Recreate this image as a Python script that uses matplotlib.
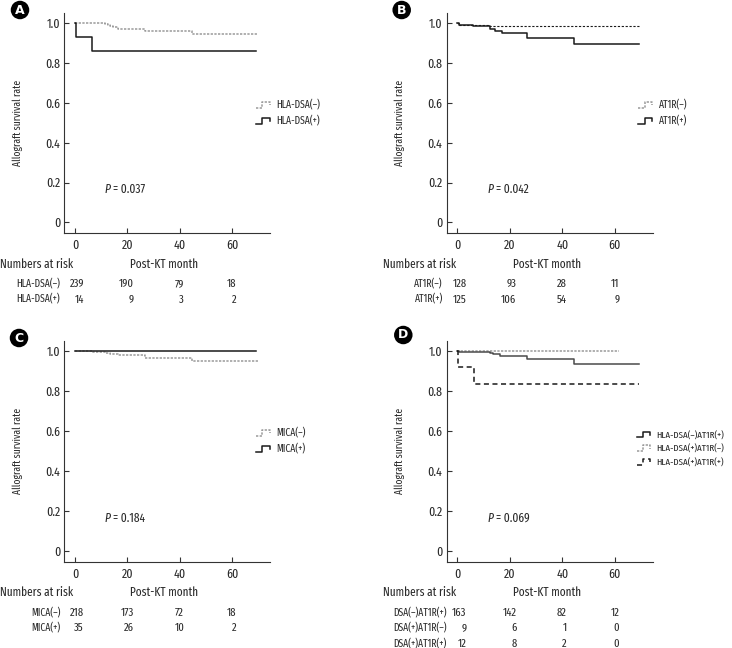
import matplotlib
matplotlib.use('Agg')
import matplotlib.pyplot as plt
from matplotlib.lines import Line2D
from matplotlib.legend_handler import HandlerLine2D

# narrow grotesque, close to the journal's typeface
plt.rcParams['font.family'] = ['Fira Sans Extra Condensed', 'DejaVu Sans']

# ---- data ----
risk_times = [0, 20, 40, 60]

# A: HLA-DSA
a_neg_t = [0, 11.5, 12.5, 13.5, 14.5, 16.5, 26.7, 44.5, 70]
a_neg_s = [1.0, 0.996, 0.991, 0.985, 0.979, 0.972, 0.962, 0.945, 0.945]
a_pos_t = [0, 0.3, 6.3, 69]
a_pos_s = [1.0, 0.929, 0.857, 0.857]
a_labels = ['HLA-DSA(–)', 'HLA-DSA(+)']
a_risk = [[239, 190, 79, 18], [14, 9, 3, 2]]
a_p = '0.037'

# B: AT1R
b_neg_t = [0, 0.5, 11.5, 69.5]
b_neg_s = [1.0, 0.992, 0.984, 0.984]
b_pos_t = [0, 0.5, 6.1, 12.4, 14.3, 16.9, 26.6, 44.4, 69]
b_pos_s = [1.0, 0.992, 0.984, 0.968, 0.960, 0.952, 0.927, 0.897, 0.897]
b_labels = ['AT1R(–)', 'AT1R(+)']
b_risk = [[128, 93, 28, 11], [125, 106, 54, 9]]
b_p = '0.042'

# C: MICA
c_neg_t = [0, 6.3, 12, 13.3, 16.3, 26.7, 44.5, 70]
c_neg_s = [1.0, 0.995, 0.990, 0.985, 0.978, 0.964, 0.951, 0.951]
c_pos_t = [0, 69]
c_pos_s = [1.0, 1.0]
c_labels = ['MICA(–)', 'MICA(+)']
c_risk = [[218, 173, 72, 18], [35, 26, 10, 2]]
c_p = '0.184'

# D: combined groups
d1_t = [0, 0.5, 12.5, 13.5, 16.3, 26.5, 44.5, 69]
d1_s = [1.0, 0.994, 0.988, 0.982, 0.975, 0.957, 0.936, 0.936]
d2_t = [0, 61.5]
d2_s = [1.0, 1.0]
d3_t = [0, 0.3, 6.3, 69]
d3_s = [1.0, 0.917, 0.833, 0.833]
d_labels = ['HLA-DSA(–)AT1R(+)', 'HLA-DSA(+)AT1R(–)', 'HLA-DSA(+)AT1R(+)']
d_risk_labels = ['DSA(–)AT1R(+)', 'DSA(+)AT1R(–)', 'DSA(+)AT1R(+)']
d_risk = [[163, 142, 82, 12], [9, 6, 1, 0], [12, 8, 2, 0]]
d_p = '0.069'

W, H = 732, 648
fig = plt.figure(figsize=(W / 100, H / 100), dpi=100)


def px_axes(l, t, r, b):
    return fig.add_axes([l / W, 1 - b / H, (r - l) / W, (b - t) / H])


class StepHandler(HandlerLine2D):
    # little Kaplan-Meier step glyph used in the legends
    def create_artists(self, legend, orig_handle, xdescent, ydescent,
                       width, height, fontsize, trans):
        x0 = -xdescent
        y0 = -ydescent
        xs = [x0, x0 + 0.4 * width, x0 + 0.4 * width, x0 + 0.9 * width, x0 + 0.9 * width]
        ys = [y0, y0, y0 + height, y0 + height, y0 + 0.45 * height]
        line = Line2D(xs, ys)
        self.update_prop(line, orig_handle, legend)
        line.set_transform(trans)
        return [line]


gray_dot = dict(color='#9a9a9a', lw=1.1, linestyle=(0, (1.5, 0.9)))
black_solid = dict(color='#1a1a1a', lw=1.1)
dark_solid = dict(color='#4a4a4a', lw=1.1)
black_dash = dict(color='#1a1a1a', lw=1.1, linestyle=(0, (3.3, 2.3)))

txt_col = '#2b2b2b'


def setup_panel(ax, letter, letter_xy, p_text):
    ax.set_xlim(-4.1, 74.4)
    ax.set_ylim(-0.053, 1.05)
    for s in ['top', 'right']:
        ax.spines[s].set_visible(False)
    for s in ['left', 'bottom']:
        ax.spines[s].set_color('#333333')
        ax.spines[s].set_linewidth(0.8)
    ax.set_xticks(risk_times)
    ax.set_yticks([0, 0.2, 0.4, 0.6, 0.8, 1.0])
    ax.set_yticklabels(['0', '0.2', '0.4', '0.6', '0.8', '1.0'])
    ax.tick_params(axis='both', direction='in', length=3.6, width=0.8,
                   colors='#333333', labelsize=9.3, labelcolor=txt_col)
    ax.tick_params(axis='x', pad=4.5)
    ax.tick_params(axis='y', pad=3)
    ax.set_ylabel('Allograft survival rate', fontsize=7.5, color=txt_col)
    ax.yaxis.set_label_coords(-0.2, 0.5)
    ax.text(11.3, 0.165, 'P', style='italic', fontsize=9, color=txt_col, va='center')
    ax.annotate('= ' + p_text, xy=(11.3, 0.165), xytext=(8.5, 0), textcoords='offset pixels',
                fontsize=9, color=txt_col, va='center')
    fig.text(letter_xy[0] / W, 1 - letter_xy[1] / H, letter, ha='center', va='center',
             color='white', fontsize=9, fontweight='bold', family='DejaVu Sans',
             bbox=dict(boxstyle='circle,pad=0.22', fc='black', ec='none'))


def risk_table(ax, labels, rows, label_dx=-4):
    ax.annotate('Numbers at risk', xy=(0, 0), xycoords='axes fraction',
                xytext=(-64, -31), textcoords='offset pixels',
                ha='left', va='center', fontsize=8.8, color=txt_col, annotation_clip=False)
    ax.annotate('Post-KT month', xy=(34, 0), xycoords=('data', 'axes fraction'),
                xytext=(0, -31), textcoords='offset pixels',
                ha='center', va='center', fontsize=8.8, color=txt_col, annotation_clip=False)
    col_dx = [9, 6.5, 4.3, 4.5]
    for i, (lab, row) in enumerate(zip(labels, rows)):
        dy = -51 - 15.5 * i
        ax.annotate(lab, xy=(0, 0), xycoords='axes fraction',
                    xytext=(label_dx, dy), textcoords='offset pixels',
                    ha='right', va='center', fontsize=7.5, color=txt_col, annotation_clip=False)
        for t, n, dx in zip(risk_times, row, col_dx):
            ax.annotate(str(n), xy=(t, 0), xycoords=('data', 'axes fraction'),
                        xytext=(dx, dy), textcoords='offset pixels',
                        ha='right', va='center', fontsize=8.3, color=txt_col,
                        annotation_clip=False)


def add_legend(ax, handles, labels, y, size=7.5, x=0.93):
    ax.legend(handles, labels, loc='center left', bbox_to_anchor=(x, y),
              frameon=False, fontsize=size, handlelength=1.5, handleheight=0.5,
              handletextpad=0.45, labelspacing=0.45, borderaxespad=0, borderpad=0,
              labelcolor=txt_col, handler_map={Line2D: StepHandler()})


# ---- A ----
axA = px_axes(64.3, 13, 270, 233)
axA.step(a_neg_t, a_neg_s, where='post', **gray_dot)
axA.step(a_pos_t, a_pos_s, where='post', **black_solid)
setup_panel(axA, 'A', (20, 10), a_p)
add_legend(axA, [Line2D([], [], **gray_dot), Line2D([], [], **black_solid)], a_labels, 0.545)
risk_table(axA, a_labels, a_risk)

# ---- B ----
axB = px_axes(446.7, 13, 652.7, 233)
axB.step(b_pos_t, b_pos_s, where='post', **black_solid)
axB.step(b_neg_t, b_neg_s, where='post', color='#1a1a1a', lw=0.8, linestyle=(0, (2, 1.5)))
setup_panel(axB, 'B', (401.7, 10), b_p)
add_legend(axB, [Line2D([], [], **gray_dot), Line2D([], [], **black_solid)], b_labels, 0.545)
risk_table(axB, b_labels, b_risk)

# ---- C ----
axC = px_axes(64.3, 340.7, 270, 561.7)
axC.step(c_neg_t, c_neg_s, where='post', **gray_dot)
axC.step(c_pos_t, c_pos_s, where='post', **black_solid)
setup_panel(axC, 'C', (19, 338), c_p)
add_legend(axC, [Line2D([], [], **gray_dot), Line2D([], [], **black_solid)], c_labels, 0.545)
risk_table(axC, c_labels, c_risk)

# ---- D ----
axD = px_axes(446.7, 340.7, 652.7, 561.7)
axD.step(d2_t, d2_s, where='post', **gray_dot)
axD.step(d1_t, d1_s, where='post', **dark_solid)
axD.step(d3_t, d3_s, where='post', **black_dash)
setup_panel(axD, 'D', (403.3, 335), d_p)
add_legend(axD, [Line2D([], [], **black_solid), Line2D([], [], **gray_dot),
                 Line2D([], [], **black_dash)], d_labels, 0.51, size=7.0, x=0.925)
risk_table(axD, d_risk_labels, d_risk, label_dx=0)

fig.savefig('out.png', dpi=100, facecolor='white')
